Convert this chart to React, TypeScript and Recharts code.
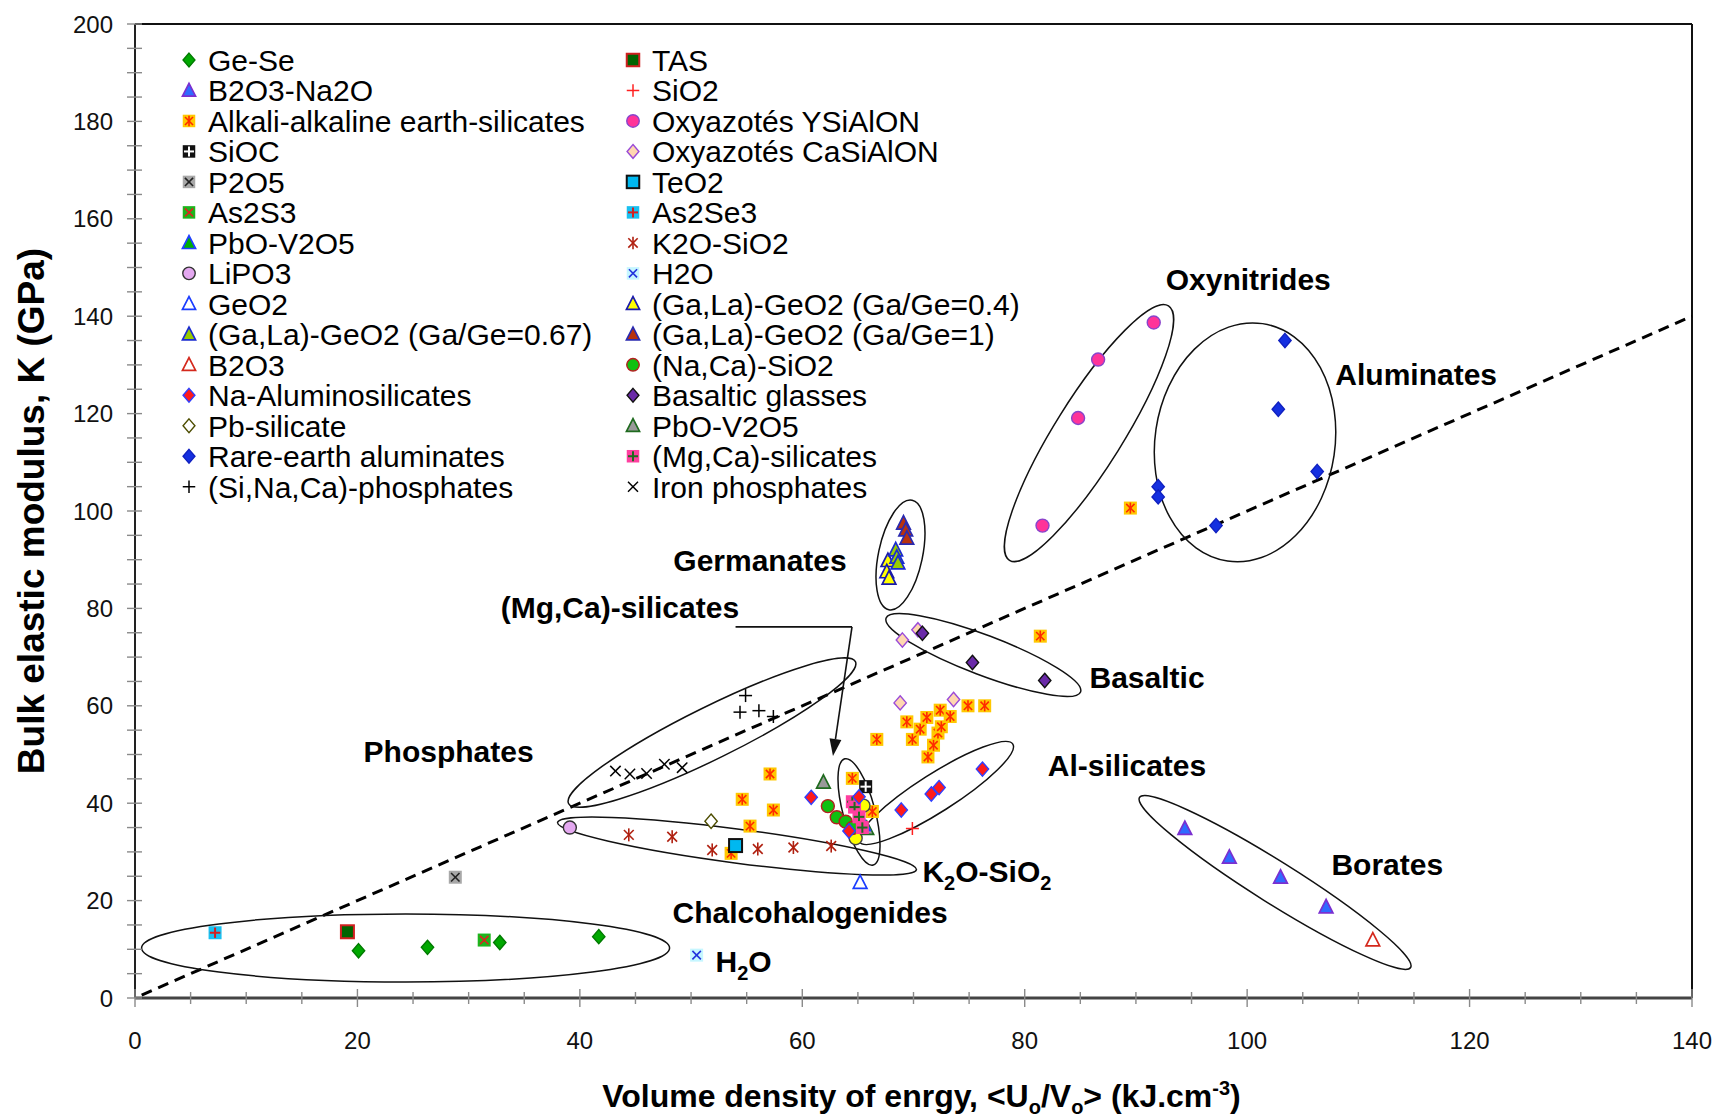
import React from 'react';
import { ScatterChart, Scatter, XAxis, YAxis, ReferenceLine, ReferenceDot, Label } from 'recharts';

const W = 1724;
const H = 1117;
const FONT = "'Liberation Sans', Arial, Helvetica, sans-serif";

// axis ticks (minor every 5, labelled every 20)
const X_TICKS = [0, 5, 10, 15, 20, 25, 30, 35, 40, 45, 50, 55, 60, 65, 70, 75, 80, 85, 90, 95, 100, 105, 110, 115, 120, 125, 130, 135, 140];
const Y_TICKS = [0, 5, 10, 15, 20, 25, 30, 35, 40, 45, 50, 55, 60, 65, 70, 75, 80, 85, 90, 95, 100, 105, 110, 115, 120, 125, 130, 135, 140, 145, 150, 155, 160, 165, 170, 175, 180, 185, 190, 195, 200];

// series values
const geSe = [{ x: 20.1, y: 9.7 }, { x: 26.3, y: 10.4 }, { x: 32.8, y: 11.4 }, { x: 41.7, y: 12.6 }];
const b2o3Na2o = [{ x: 94.4, y: 34.8 }, { x: 98.4, y: 28.9 }, { x: 103.0, y: 24.8 }, { x: 107.1, y: 18.7 }];
const alkali = [
  { x: 57.1, y: 46.0 }, { x: 54.6, y: 40.8 }, { x: 57.4, y: 38.6 }, { x: 55.3, y: 35.3 }, { x: 53.6, y: 29.7 },
  { x: 64.5, y: 45.1 }, { x: 66.3, y: 38.3 }, { x: 66.7, y: 53.1 }, { x: 69.4, y: 56.7 }, { x: 69.9, y: 53.1 },
  { x: 70.6, y: 55.2 }, { x: 71.2, y: 57.6 }, { x: 71.3, y: 49.5 }, { x: 71.8, y: 51.9 }, { x: 72.2, y: 54.4 },
  { x: 72.5, y: 55.7 }, { x: 72.4, y: 59.1 }, { x: 73.3, y: 57.8 }, { x: 74.9, y: 60.0 }, { x: 76.4, y: 60.0 },
  { x: 81.4, y: 74.3 }, { x: 89.5, y: 100.6 },
];
const sioc = [{ x: 65.7, y: 43.4 }];
const p2o5 = [{ x: 28.8, y: 24.8 }];
const as2s3 = [{ x: 31.4, y: 11.9 }];
const pboV2o5a = [{ x: 65.5, y: 35.6 }];
const lipo3 = [{ x: 39.1, y: 35.0 }];
const geo2 = [{ x: 65.2, y: 23.7 }];
const gaLa067 = [{ x: 68.4, y: 92.0 }, { x: 68.5, y: 90.5 }, { x: 68.6, y: 89.3 }];
const b2o3 = [{ x: 111.3, y: 11.9 }];
const naAlumino = [
  { x: 60.8, y: 41.2 }, { x: 64.2, y: 34.3 }, { x: 65.1, y: 41.3 }, { x: 68.9, y: 38.6 },
  { x: 71.6, y: 41.9 }, { x: 72.3, y: 43.2 }, { x: 76.2, y: 47.0 },
];
const pbSilicate = [{ x: 51.8, y: 36.3 }];
const rareEarth = [
  { x: 103.4, y: 135.0 }, { x: 102.8, y: 120.9 }, { x: 106.3, y: 108.1 },
  { x: 92.0, y: 105.0 }, { x: 92.0, y: 102.9 }, { x: 97.2, y: 97.0 },
];
const siNaCaPhos = [{ x: 54.9, y: 62.1 }, { x: 54.4, y: 58.7 }, { x: 56.1, y: 59.0 }, { x: 57.4, y: 57.8 }];
const tas = [{ x: 19.1, y: 13.6 }];
const sio2 = [{ x: 69.9, y: 34.8 }];
const ysialon = [{ x: 91.6, y: 138.7 }, { x: 86.6, y: 131.1 }, { x: 84.8, y: 119.1 }, { x: 81.6, y: 97.0 }];
const casialon = [{ x: 69.0, y: 73.5 }, { x: 70.4, y: 75.6 }, { x: 68.8, y: 60.6 }, { x: 73.6, y: 61.3 }];
const teo2 = [{ x: 54.0, y: 31.3 }];
const as2se3 = [{ x: 7.2, y: 13.4 }];
const k2oSio2 = [
  { x: 44.4, y: 33.5 }, { x: 48.3, y: 33.1 }, { x: 51.9, y: 30.4 },
  { x: 56.0, y: 30.6 }, { x: 59.2, y: 30.9 }, { x: 62.6, y: 31.2 },
];
const h2o = [{ x: 50.5, y: 8.8 }];
const gaLa04 = [{ x: 67.7, y: 89.8 }, { x: 67.6, y: 87.5 }, { x: 67.8, y: 86.2 }];
const gaLa1 = [{ x: 69.1, y: 97.5 }, { x: 69.3, y: 96.1 }, { x: 69.4, y: 94.4 }];
const naCaSio2 = [{ x: 62.3, y: 39.4 }, { x: 63.1, y: 37.1 }, { x: 63.9, y: 36.2 }, { x: 64.5, y: 34.9 }];
const basaltic = [{ x: 70.8, y: 74.9 }, { x: 75.3, y: 68.9 }, { x: 81.8, y: 65.2 }];
const pboV2o5b = [{ x: 61.9, y: 44.3 }, { x: 65.8, y: 34.8 }];
const mgCaSil = [{ x: 64.5, y: 40.3 }, { x: 64.7, y: 39.2 }, { x: 65.1, y: 37.2 }, { x: 65.4, y: 35.0 }];
const ironPhos = [{ x: 43.2, y: 46.6 }, { x: 44.5, y: 46.0 }, { x: 46.0, y: 46.1 }, { x: 47.6, y: 48.0 }, { x: 49.2, y: 47.3 }];
const unlistedYellow = [{ x: 64.8, y: 32.8 }, { x: 65.5, y: 39.5 }];

// group outlines: centre in data units, radii in px, rotation in degrees
const GROUP_ELLIPSES = [
  { id: 'chalco', x: 24.33, y: 10.27, rx: 264, ry: 34, angle: 0 },
  { id: 'k2o', x: 54.13, y: 31.2, rx: 181, ry: 17, angle: 7.5 },
  { id: 'phos', x: 51.88, y: 54.5, rx: 160, ry: 26, angle: -26.3 },
  { id: 'mgca', x: 65.1, y: 38.2, rx: 55, ry: 16, angle: 75 },
  { id: 'alsil', x: 72.03, y: 42.1, rx: 91, ry: 19, angle: -32.5 },
  { id: 'germ', x: 68.83, y: 90.97, rx: 56, ry: 22, angle: -78 },
  { id: 'basalt', x: 76.28, y: 70.43, rx: 104, ry: 20, angle: 20.8 },
  { id: 'oxyn', x: 85.78, y: 116.0, rx: 150, ry: 34, angle: -58 },
  { id: 'alum', x: 99.81, y: 114.1, rx: 120, ry: 90, angle: -81.6 },
  { id: 'borates', x: 102.51, y: 23.72, rx: 160, ry: 21, angle: 32.1 },
];

const GROUP_LABELS = [
  { text: 'Oxynitrides', x: 100.1, y: 147.4 },
  { text: 'Aluminates', x: 115.2, y: 127.9 },
  { text: 'Germanates', x: 56.2, y: 89.7 },
  { text: '(Mg,Ca)-silicates', x: 43.6, y: 80.1 },
  { text: 'Basaltic', x: 91.0, y: 65.7 },
  { text: 'Phosphates', x: 28.2, y: 50.5 },
  { text: 'Al-silicates', x: 89.2, y: 47.6 },
  { text: 'Borates', x: 112.6, y: 27.3 },
  { text: 'Chalcohalogenides', x: 60.7, y: 17.5 },
];

type Glyph = 'diamond' | 'triangle' | 'square' | 'circle' | 'plus' | 'cross' | 'asterisk' | 'boxAsterisk' | 'boxPlus' | 'boxCross';
interface Look { glyph: Glyph; fill: string; stroke: string; mark?: string }
interface Series { key: string; name: string; data: { x: number; y: number }[]; look: Look }

const COL1: Series[] = [
  { key: 'geSe', name: 'Ge-Se', data: geSe, look: { glyph: 'diamond', fill: '#00a800', stroke: '#007a00' } },
  { key: 'b2o3Na2o', name: 'B2O3-Na2O', data: b2o3Na2o, look: { glyph: 'triangle', fill: '#2f6bff', stroke: '#7b2fd0' } },
  { key: 'alkali', name: 'Alkali-alkaline earth-silicates', data: alkali, look: { glyph: 'boxAsterisk', fill: '#ffc800', stroke: 'none', mark: '#ff2a00' } },
  { key: 'sioc', name: 'SiOC', data: sioc, look: { glyph: 'boxPlus', fill: '#111', stroke: 'none', mark: '#fff' } },
  { key: 'p2o5', name: 'P2O5', data: p2o5, look: { glyph: 'boxCross', fill: '#a8a8a8', stroke: 'none', mark: '#222' } },
  { key: 'as2s3', name: 'As2S3', data: as2s3, look: { glyph: 'boxCross', fill: '#1db51d', stroke: 'none', mark: '#e02020' } },
  { key: 'pboV2o5a', name: 'PbO-V2O5', data: pboV2o5a, look: { glyph: 'triangle', fill: '#00b000', stroke: '#2040ff' } },
  { key: 'lipo3', name: 'LiPO3', data: lipo3, look: { glyph: 'circle', fill: '#e4a8f0', stroke: '#333' } },
  { key: 'geo2', name: 'GeO2', data: geo2, look: { glyph: 'triangle', fill: '#fff', stroke: '#1a3cff' } },
  { key: 'gaLa067', name: '(Ga,La)-GeO2 (Ga/Ge=0.67)', data: gaLa067, look: { glyph: 'triangle', fill: '#99cc00', stroke: '#1a2bd0' } },
  { key: 'b2o3', name: 'B2O3', data: b2o3, look: { glyph: 'triangle', fill: '#fff', stroke: '#d4281c' } },
  { key: 'naAlumino', name: 'Na-Aluminosilicates', data: naAlumino, look: { glyph: 'diamond', fill: '#ff1a1a', stroke: '#2f3fff' } },
  { key: 'pbSil', name: 'Pb-silicate', data: pbSilicate, look: { glyph: 'diamond', fill: '#fff', stroke: '#4d4d00' } },
  { key: 'rareEarth', name: 'Rare-earth aluminates', data: rareEarth, look: { glyph: 'diamond', fill: '#1530e0', stroke: '#1020c0' } },
  { key: 'siNaCa', name: '(Si,Na,Ca)-phosphates', data: siNaCaPhos, look: { glyph: 'plus', fill: 'none', stroke: '#000' } },
];

const COL2: Series[] = [
  { key: 'tas', name: 'TAS', data: tas, look: { glyph: 'square', fill: '#006400', stroke: '#d02020' } },
  { key: 'sio2', name: 'SiO2', data: sio2, look: { glyph: 'plus', fill: 'none', stroke: '#ff2020' } },
  { key: 'ysialon', name: 'Oxyazotés YSiAlON', data: ysialon, look: { glyph: 'circle', fill: '#ff3399', stroke: '#8844cc' } },
  { key: 'casialon', name: 'Oxyazotés CaSiAlON', data: casialon, look: { glyph: 'diamond', fill: '#ffd7b0', stroke: '#9a4ad8' } },
  { key: 'teo2', name: 'TeO2', data: teo2, look: { glyph: 'square', fill: '#00b8f0', stroke: '#111' } },
  { key: 'as2se3', name: 'As2Se3', data: as2se3, look: { glyph: 'boxPlus', fill: '#19c0f0', stroke: 'none', mark: '#d42020' } },
  { key: 'k2o', name: 'K2O-SiO2', data: k2oSio2, look: { glyph: 'asterisk', fill: 'none', stroke: '#b02010' } },
  { key: 'h2o', name: 'H2O', data: h2o, look: { glyph: 'boxCross', fill: '#c6f6ff', stroke: 'none', mark: '#2233dd' } },
  { key: 'gaLa04', name: '(Ga,La)-GeO2 (Ga/Ge=0.4)', data: gaLa04, look: { glyph: 'triangle', fill: '#ffff00', stroke: '#1a1aaa' } },
  { key: 'gaLa1', name: '(Ga,La)-GeO2 (Ga/Ge=1)', data: gaLa1, look: { glyph: 'triangle', fill: '#b8320e', stroke: '#2a2ab0' } },
  { key: 'naCa', name: '(Na,Ca)-SiO2', data: naCaSio2, look: { glyph: 'circle', fill: '#10c010', stroke: '#b42020' } },
  { key: 'basaltic', name: 'Basaltic glasses', data: basaltic, look: { glyph: 'diamond', fill: '#6a2aa8', stroke: '#111' } },
  { key: 'pboV2o5b', name: 'PbO-V2O5', data: pboV2o5b, look: { glyph: 'triangle', fill: '#999', stroke: '#1f6b1f' } },
  { key: 'mgCa', name: '(Mg,Ca)-silicates', data: mgCaSil, look: { glyph: 'boxPlus', fill: '#ff3fa0', stroke: 'none', mark: '#1f6b1f' } },
  { key: 'iron', name: 'Iron phosphates', data: ironPhos, look: { glyph: 'cross', fill: 'none', stroke: '#000' } },
];

const UNLISTED: Series = { key: 'yellowDots', name: '', data: unlistedYellow, look: { glyph: 'circle', fill: '#ffff00', stroke: '#444' } };

// drawing order: background groups first, the crowded cluster on top
const DRAW_ORDER = [
  'k2o', 'iron', 'siNaCa', 'alkali', 'casialon', 'basaltic', 'geSe', 'tas', 'as2s3', 'as2se3', 'p2o5', 'h2o',
  'lipo3', 'pbSil', 'teo2', 'geo2', 'sio2', 'b2o3Na2o', 'b2o3', 'ysialon', 'rareEarth', 'gaLa04', 'gaLa067', 'gaLa1',
  'pboV2o5b', 'yellowDots', 'naCa', 'pboV2o5a', 'mgCa', 'sioc', 'naAlumino',
];

function Marker({ cx, cy, s, look }: { cx: number; cy: number; s: number; look: Look }) {
  const h = s / 2;
  const sw = 1.4;
  const mk = look.mark || look.stroke;
  const box = <rect x={cx - h} y={cy - h} width={s} height={s} fill={look.fill} stroke={look.stroke} strokeWidth={sw} />;
  const star = (c: string, r: number) => (
    <g stroke={c} strokeWidth={1.6}>
      <line x1={cx} y1={cy - r} x2={cx} y2={cy + r} />
      <line x1={cx - r * 0.75} y1={cy - r * 0.75} x2={cx + r * 0.75} y2={cy + r * 0.75} />
      <line x1={cx - r * 0.75} y1={cy + r * 0.75} x2={cx + r * 0.75} y2={cy - r * 0.75} />
    </g>
  );
  switch (look.glyph) {
    case 'diamond':
      return <polygon points={`${cx},${cy - h * 1.1} ${cx + h * 0.95},${cy} ${cx},${cy + h * 1.1} ${cx - h * 0.95},${cy}`} fill={look.fill} stroke={look.stroke} strokeWidth={sw} />;
    case 'triangle':
      return <polygon points={`${cx},${cy - h * 1.15} ${cx + h * 1.05},${cy + h * 0.9} ${cx - h * 1.05},${cy + h * 0.9}`} fill={look.fill} stroke={look.stroke} strokeWidth={sw + 0.3} />;
    case 'square':
      return <rect x={cx - h} y={cy - h} width={s} height={s} fill={look.fill} stroke={look.stroke} strokeWidth={sw + 0.6} />;
    case 'circle':
      return <circle cx={cx} cy={cy} r={h} fill={look.fill} stroke={look.stroke} strokeWidth={sw} />;
    case 'plus':
      return (
        <g stroke={look.stroke} strokeWidth={1.5}>
          <line x1={cx - h} y1={cy} x2={cx + h} y2={cy} />
          <line x1={cx} y1={cy - h} x2={cx} y2={cy + h} />
        </g>
      );
    case 'cross':
      return (
        <g stroke={look.stroke} strokeWidth={1.5}>
          <line x1={cx - h * 0.8} y1={cy - h * 0.8} x2={cx + h * 0.8} y2={cy + h * 0.8} />
          <line x1={cx - h * 0.8} y1={cy + h * 0.8} x2={cx + h * 0.8} y2={cy - h * 0.8} />
        </g>
      );
    case 'asterisk':
      return star(look.stroke, h);
    case 'boxAsterisk':
      return <g>{box}{star(mk, h * 0.85)}</g>;
    case 'boxPlus':
      return (
        <g>
          {box}
          <g stroke={mk} strokeWidth={2}>
            <line x1={cx - h * 0.8} y1={cy} x2={cx + h * 0.8} y2={cy} />
            <line x1={cx} y1={cy - h * 0.8} x2={cx} y2={cy + h * 0.8} />
          </g>
        </g>
      );
    case 'boxCross':
      return (
        <g>
          {box}
          <g stroke={mk} strokeWidth={1.6}>
            <line x1={cx - h * 0.65} y1={cy - h * 0.65} x2={cx + h * 0.65} y2={cy + h * 0.65} />
            <line x1={cx - h * 0.65} y1={cy + h * 0.65} x2={cx + h * 0.65} y2={cy - h * 0.65} />
          </g>
        </g>
      );
    default:
      return null;
  }
}

const XTick = (props: any) => {
  const { x, y, payload } = props;
  const v = payload.value as number;
  const major = v % 20 === 0;
  return (
    <g>
      <line x1={x} x2={x} y1={y - (major ? 9 : 6)} y2={y + (major ? 9 : 6)} stroke="#8a8a8a" strokeWidth={1.4} />
      {major && (
        <text x={x} y={y + 51} textAnchor="middle" fontSize={24} fill="#111" fontFamily={FONT}>{v}</text>
      )}
    </g>
  );
};

const YTick = (props: any) => {
  const { x, y, payload } = props;
  const v = payload.value as number;
  const major = v % 20 === 0;
  return (
    <g>
      <line x1={x - 8} x2={x + 7} y1={y} y2={y} stroke="#8a8a8a" strokeWidth={1.4} />
      {major && (
        <text x={x - 22} y={y + 8.5} textAnchor="end" fontSize={24} fill="#111" fontFamily={FONT}>{v}</text>
      )}
    </g>
  );
};

const ellipseShape = (e: { rx: number; ry: number; angle: number }) => (p: any) => (
  <ellipse cx={p.cx} cy={p.cy} rx={e.rx} ry={e.ry} transform={`rotate(${e.angle} ${p.cx} ${p.cy})`} fill="none" stroke="#111" strokeWidth={1.5} />
);

const textShape = (content: React.ReactNode, anchor = 'middle') => (p: any) => (
  <text x={p.cx} y={p.cy} dy={10} textAnchor={anchor} fontSize={30} fontWeight="bold" fill="#000" fontFamily={FONT}>{content}</text>
);

const arrowShape = (p: any) => {
  const { x1, y1, x2, y2 } = p;
  const ang = Math.atan2(y2 - y1, x2 - x1);
  const L = 17;
  const wd = 6;
  const bx = x2 - L * Math.cos(ang);
  const by = y2 - L * Math.sin(ang);
  const px = -Math.sin(ang) * wd;
  const py = Math.cos(ang) * wd;
  return (
    <g>
      <line x1={x1} y1={y1} x2={bx} y2={by} stroke="#111" strokeWidth={1.6} />
      <polygon points={`${x2},${y2} ${bx + px},${by + py} ${bx - px},${by - py}`} fill="#111" />
    </g>
  );
};

const xTitle = (p: any) => {
  const vb = p.viewBox;
  return (
    <text x={vb.x + vb.width / 2 + 8} y={vb.y + 109} textAnchor="middle" fontSize={32} fontWeight="bold" fill="#000" fontFamily={FONT}>
      Volume density of enrgy, &lt;U<tspan fontSize={20} dy={7}>o</tspan><tspan dy={-7}>/V</tspan><tspan fontSize={20} dy={7}>o</tspan><tspan dy={-7}>&gt; (kJ.cm</tspan><tspan fontSize={20} dy={-12}>-3</tspan><tspan dy={12}>)</tspan>
    </text>
  );
};

const yTitle = (p: any) => {
  const vb = p.viewBox;
  const cx = 31;
  const cy = vb.y + vb.height / 2;
  return (
    <text x={cx} y={cy} transform={`rotate(-90 ${cx} ${cy})`} dy={13} textAnchor="middle" fontSize={37} fontWeight="bold" fill="#000" fontFamily={FONT}>
      Bulk elastic modulus, K (GPa)
    </text>
  );
};

function LegendOverlay() {
  const rowY = (i: number) => 60 + i * 30.48;
  const col = (list: Series[], mx: number, tx: number) =>
    list.map((s, i) => (
      <g key={s.key}>
        <Marker cx={mx} cy={rowY(i)} s={12.5} look={s.look} />
        <text x={tx} y={rowY(i) + 11} fontSize={30} fill="#000" fontFamily={FONT}>{s.name}</text>
      </g>
    ));
  return (
    <svg width={W} height={H} style={{ position: 'absolute', left: 0, top: 0, pointerEvents: 'none' }}>
      {col(COL1, 189, 208)}
      {col(COL2, 633, 652)}
    </svg>
  );
}

export default function App() {
  const all = [...COL1, ...COL2, UNLISTED];
  const ordered = DRAW_ORDER.map((k) => all.find((s) => s.key === k)!).filter(Boolean);
  return (
    <div style={{ position: 'absolute', left: 0, top: 0, width: W, height: H, background: '#fff' }}>
      <ScatterChart width={W} height={H} margin={{ top: 24, right: 32, bottom: 0, left: 0 }}>
        <XAxis
          type="number"
          dataKey="x"
          domain={[0, 140]}
          ticks={X_TICKS}
          interval={0}
          height={119}
          tickSize={0}
          tickMargin={0}
          tickLine={false}
          tick={<XTick />}
          axisLine={{ stroke: '#444', strokeWidth: 3 }}
        >
          <Label content={xTitle} />
        </XAxis>
        <YAxis
          type="number"
          dataKey="y"
          domain={[0, 200]}
          ticks={Y_TICKS}
          interval={0}
          width={135}
          tickSize={0}
          tickMargin={0}
          tickLine={false}
          tick={<YTick />}
          axisLine={{ stroke: '#222', strokeWidth: 2 }}
        >
          <Label content={yTitle} />
        </YAxis>

        <ReferenceLine y={200} stroke="#111" strokeWidth={2} />
        <ReferenceLine x={140} stroke="#111" strokeWidth={2} />
        <ReferenceLine segment={[{ x: 0.6, y: 0.6 }, { x: 140, y: 140 }]} stroke="#000" strokeWidth={3} strokeDasharray="11 7" />

        {GROUP_ELLIPSES.map((e) => (
          <ReferenceDot key={e.id} x={e.x} y={e.y} r={1} shape={ellipseShape(e)} />
        ))}

        {ordered.map((s) => (
          <Scatter
            key={s.key}
            name={s.name}
            data={s.data}
            isAnimationActive={false}
            shape={(p: any) => <Marker cx={p.cx} cy={p.cy} s={13} look={s.look} />}
          />
        ))}

        <ReferenceLine segment={[{ x: 54.0, y: 76.2 }, { x: 64.47, y: 76.2 }]} stroke="#111" strokeWidth={1.6} />
        <ReferenceLine segment={[{ x: 64.47, y: 76.2 }, { x: 62.76, y: 49.7 }]} shape={arrowShape} />

        {GROUP_LABELS.map((l) => (
          <ReferenceDot key={l.text} x={l.x} y={l.y} r={1} shape={textShape(l.text)} />
        ))}
        <ReferenceDot
          x={76.6}
          y={25.9}
          r={1}
          shape={textShape(<>K<tspan fontSize={20} dy={8}>2</tspan><tspan dy={-8}>O-SiO</tspan><tspan fontSize={20} dy={8}>2</tspan></>)}
        />
        <ReferenceDot
          x={52.2}
          y={7.4}
          r={1}
          shape={textShape(<>H<tspan fontSize={20} dy={8}>2</tspan><tspan dy={-8}>O</tspan></>, 'start')}
        />
      </ScatterChart>
      <LegendOverlay />
    </div>
  );
}
